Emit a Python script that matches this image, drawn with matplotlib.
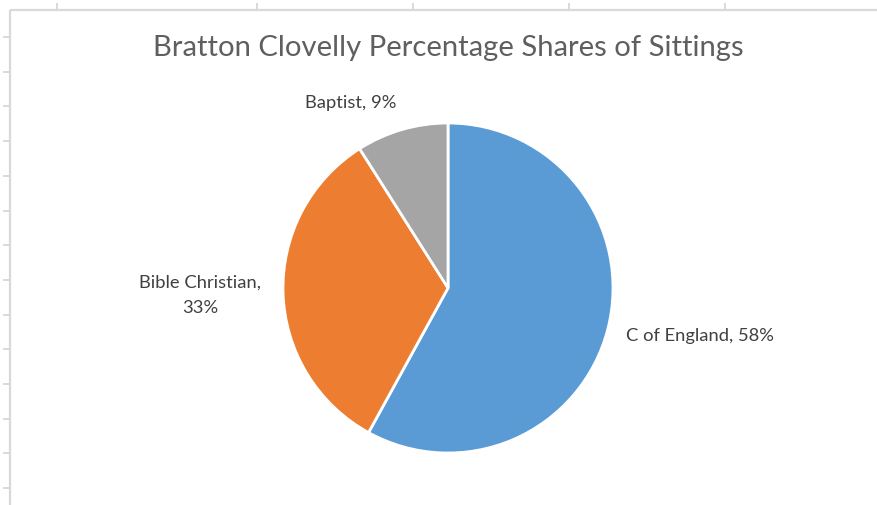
import matplotlib
matplotlib.use("Agg")
import matplotlib.pyplot as plt
import numpy as np

categories = ["C of England", "Bible Christian", "Baptist"]
shares = [58, 33, 9]
colors = ["#5B9BD5", "#ED7D31", "#A5A5A5"]
title = "Bratton Clovelly Percentage Shares of Sittings"

W, H = 877, 506
fig = plt.figure(figsize=(W / 100, H / 100), dpi=100)
fig.patch.set_facecolor("white")

# overlay axes in pixel coordinates (spreadsheet frame)
bg = fig.add_axes([0, 0, 1, 1])
bg.set_xlim(0, W)
bg.set_ylim(H, 0)
bg.axis("off")
grid_c = "#D9D9D9"
bg.plot([10, 10], [11, H], color=grid_c, lw=1.6, solid_capstyle="butt")
bg.plot([10, W], [11, 11], color=grid_c, lw=1.6, solid_capstyle="butt")
for y in np.arange(38, H, 34.7):
    bg.plot([4, 10], [y, y], color=grid_c, lw=1.4)
for x in [57, 257, 413, 569, 725]:
    bg.plot([x, x], [5, 11], color=grid_c, lw=1.4)

bg.text(448, 48, title, ha="center", va="center", fontsize=21.1,
        family="Lato", color="#5F5F5F")

# pie axes
cx, cy, r = 448, 289, 165
pax = fig.add_axes([(cx - r) / W, (H - cy - r) / H, 2 * r / W, 2 * r / H])
wedges, _ = pax.pie(shares, colors=colors, startangle=90, counterclock=False,
                    radius=1.0, wedgeprops=dict(edgecolor="white", linewidth=2))
pax.set_xlim(-1, 1)
pax.set_ylim(-1, 1)
pax.axis("off")

label_style = dict(fontsize=13.2, family="Lato", color="#404040")
bg.text(626, 336, f"{categories[0]}, {shares[0]}%", ha="left", va="center", **label_style)
bg.text(200, 295, f"{categories[1]},\n{shares[1]}%", ha="center", va="center",
        linespacing=1.75, **label_style)
bg.text(351, 103, f"{categories[2]}, {shares[2]}%", ha="center", va="center", **label_style)

fig.savefig("out.png", dpi=100)
